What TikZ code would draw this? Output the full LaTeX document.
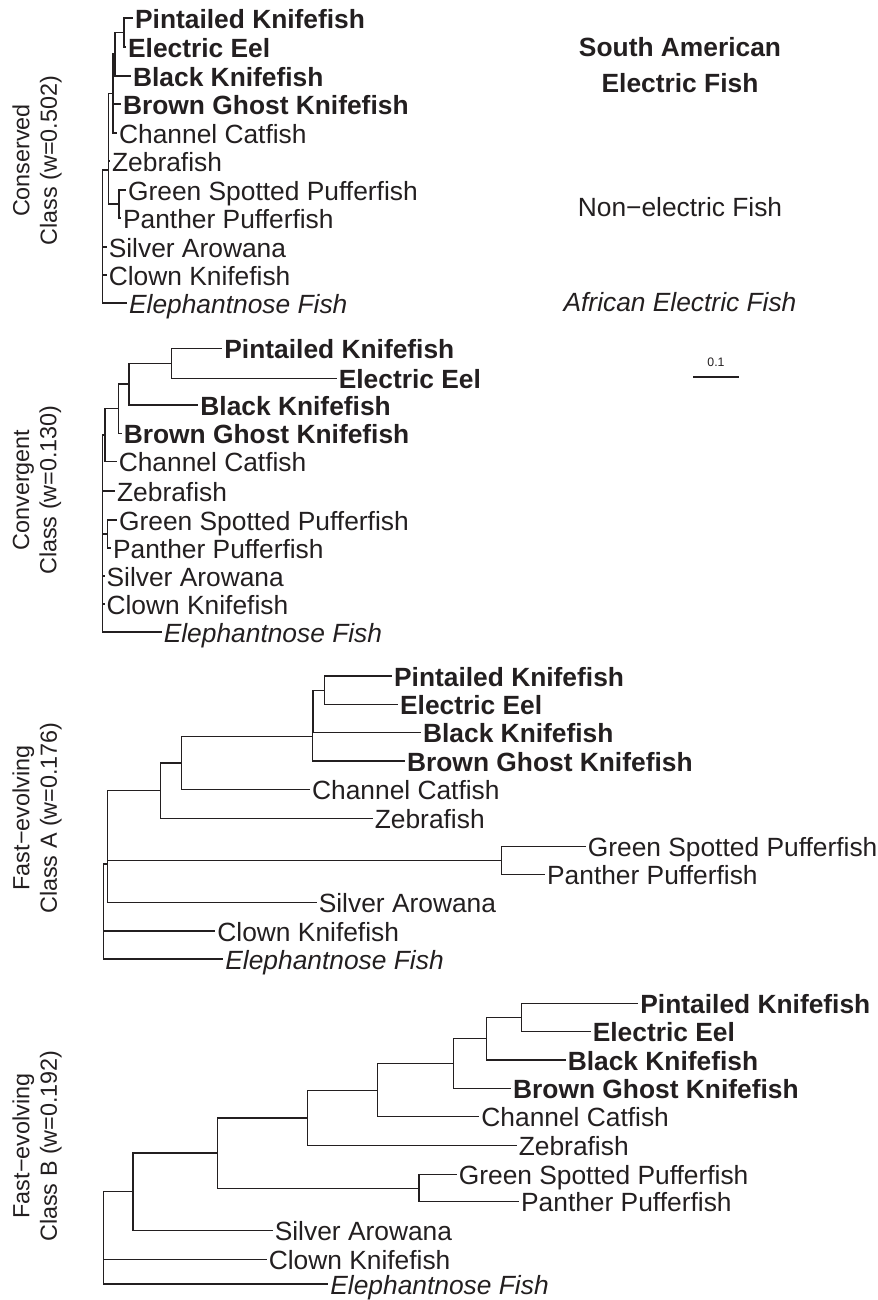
\documentclass[tikz,border=0pt]{standalone}
\usepackage{fontspec}
\setmainfont{Liberation Sans}
\usetikzlibrary{positioning}

\definecolor{inkdark}{RGB}{35,31,32}

\tikzset{
  leaf/.style={anchor=west, inner xsep=1pt, inner ysep=0pt, text=inkdark,
    font=\fontsize{15}{18}\selectfont, text height=11.6pt, text depth=0pt},
  saleaf/.style={leaf, font=\fontsize{15}{18}\selectfont\bfseries},
  afleaf/.style={leaf, font=\fontsize{15}{18}\selectfont\itshape},
  branch/.style={draw=inkdark, line width=0.6pt},
  sidelabel/.style={rotate=90, align=center, text=inkdark,
    font=\fontsize{13.3}{15.6}\selectfont},
  legend/.style={text=inkdark, font=\fontsize{15}{18}\selectfont}
}

\begin{document}
\begin{tikzpicture}[x=0.02cm, y=-0.02cm]
            \useasboundingbox (0,0) rectangle (877,1300);

            % conserved class
            \node[saleaf] (aPK) at (133,18) {Pintailed Knifefish};
            \node[saleaf] (aEE) at (126,47) {Electric Eel};
            \node[saleaf] (aBK) at (131,76) {Black Knifefish};
            \node[saleaf] (aBG) at (121,104) {Brown Ghost Knifefish};
            \node[leaf] (aCC) at (117,133) {Channel Catfish};
            \node[leaf] (aZF) at (110,161) {Zebrafish};
            \node[leaf] (aGP) at (126,190) {Green Spotted Pufferfish};
            \node[leaf] (aPP) at (121,218) {Panther Pufferfish};
            \node[leaf] (aSA) at (106.7,247) {Silver Arowana};
            \node[leaf] (aCK) at (106.7,275) {Clown Knifefish};
            \node[afleaf] (aEF) at (127,303) {Elephantnose Fish};

            \coordinate (aN1) at (124,32.5);
            \coordinate (aN2) at (115,54);
            \coordinate (aN3) at (113,93.5);
            \coordinate (aN4) at (108.5,170);
            \coordinate (aPF) at (119,204);
            \coordinate (aR) at (102.5,236);

            \draw[branch] (aN1) |- (aPK.west);
            \draw[branch] (aN1) |- (aEE.west);
            \draw[branch] (aN2) |- (aN1);
            \draw[branch] (aN2) |- (aBK.west);
            \draw[branch] (aN3) |- (aN2);
            \draw[branch] (aN3) |- (aBG.west);
            \draw[branch] (aN3) |- (aCC.west);
            \draw[branch] (aPF) |- (aGP.west);
            \draw[branch] (aPF) |- (aPP.west);
            \draw[branch] (aN4) |- (aN3);
            \draw[branch] (aN4) |- (aZF.west);
            \draw[branch] (aN4) |- (aPF);
            \draw[branch] (aR) |- (aN4);
            \draw[branch] (aR) |- (aSA.west);
            \draw[branch] (aR) |- (aCK.west);
            \draw[branch] (aR) |- (aEF.west);

            % convergent class
            \node[saleaf] (bPK) at (222.3,348.3) {Pintailed Knifefish};
            \node[saleaf] (bEE) at (336.7,378.3) {Electric Eel};
            \node[saleaf] (bBK) at (198.3,405) {Black Knifefish};
            \node[saleaf] (bBG) at (121.7,433.3) {Brown Ghost Knifefish};
            \node[leaf] (bCC) at (116.7,461.7) {Channel Catfish};
            \node[leaf] (bZF) at (115,491) {Zebrafish};
            \node[leaf] (bGP) at (117,520) {Green Spotted Pufferfish};
            \node[leaf] (bPP) at (111,548) {Panther Pufferfish};
            \node[leaf] (bSA) at (104.5,576) {Silver Arowana};
            \node[leaf] (bCK) at (104.5,604) {Clown Knifefish};
            \node[afleaf] (bEF) at (161.7,632) {Elephantnose Fish};

            \coordinate (bN1) at (171.7,363.3);
            \coordinate (bN2) at (129,384);
            \coordinate (bN3) at (118.3,408.7);
            \coordinate (bN4) at (105,435);
            \coordinate (bPF) at (107.7,534);
            \coordinate (bR) at (102.3,533);

            \draw[branch] (bN1) |- (bPK.west);
            \draw[branch] (bN1) |- (bEE.west);
            \draw[branch] (bN2) |- (bN1);
            \draw[branch] (bN2) |- (bBK.west);
            \draw[branch] (bN3) |- (bN2);
            \draw[branch] (bN3) |- (bBG.west);
            \draw[branch] (bN4) |- (bN3);
            \draw[branch] (bN4) |- (bCC.west);
            \draw[branch] (bPF) |- (bGP.west);
            \draw[branch] (bPF) |- (bPP.west);
            \draw[branch] (bR) |- (bN4);
            \draw[branch] (bR) |- (bZF.west);
            \draw[branch] (bR) |- (bPF);
            \draw[branch] (bR) |- (bSA.west);
            \draw[branch] (bR) |- (bCK.west);
            \draw[branch] (bR) |- (bEF.west);

            % fast-evolving class A
            \node[saleaf] (cPK) at (392,676) {Pintailed Knifefish};
            \node[saleaf] (cEE) at (398,704.3) {Electric Eel};
            \node[saleaf] (cBK) at (421,732.7) {Black Knifefish};
            \node[saleaf] (cBG) at (405,761) {Brown Ghost Knifefish};
            \node[leaf] (cCC) at (310,789.7) {Channel Catfish};
            \node[leaf] (cZF) at (372.7,818.3) {Zebrafish};
            \node[leaf] (cGP) at (585.7,846.7) {Green Spotted Pufferfish};
            \node[leaf] (cPP) at (545,874.3) {Panther Pufferfish};
            \node[leaf] (cSA) at (316.7,902.7) {Silver Arowana};
            \node[leaf] (cCK) at (215.3,931) {Clown Knifefish};
            \node[afleaf] (cEF) at (223.3,959) {Elephantnose Fish};

            \coordinate (cN1) at (324.3,690.2);
            \coordinate (cN2) at (313,711.5);
            \coordinate (cN3) at (312.3,736.3);
            \coordinate (cN4) at (181.7,763);
            \coordinate (cN5) at (160.3,790.5);
            \coordinate (cPF) at (501.7,860.5);
            \coordinate (cN6) at (107.7,825.5);
            \coordinate (cN7) at (107.3,864);
            \coordinate (cR) at (103.3,911);

            \draw[branch] (cN1) |- (cPK.west);
            \draw[branch] (cN1) |- (cEE.west);
            \draw[branch] (cN2) |- (cN1);
            \draw[branch] (cN2) |- (cBK.west);
            \draw[branch] (cN3) |- (cN2);
            \draw[branch] (cN3) |- (cBG.west);
            \draw[branch] (cN4) |- (cN3);
            \draw[branch] (cN4) |- (cCC.west);
            \draw[branch] (cN5) |- (cN4);
            \draw[branch] (cN5) |- (cZF.west);
            \draw[branch] (cPF) |- (cGP.west);
            \draw[branch] (cPF) |- (cPP.west);
            \draw[branch] (cN6) |- (cN5);
            \draw[branch] (cN6) |- (cPF);
            \draw[branch] (cN7) |- (cN6);
            \draw[branch] (cN7) |- (cSA.west);
            \draw[branch] (cR) |- (cN7);
            \draw[branch] (cR) |- (cCK.west);
            \draw[branch] (cR) |- (cEF.west);

            % fast-evolving class B
            \node[saleaf] (dPK) at (638.3,1003.3) {Pintailed Knifefish};
            \node[saleaf] (dEE) at (590.7,1031.7) {Electric Eel};
            \node[saleaf] (dBK) at (565.7,1060) {Black Knifefish};
            \node[saleaf] (dBG) at (511,1088.3) {Brown Ghost Knifefish};
            \node[leaf] (dCC) at (479.3,1116.7) {Channel Catfish};
            \node[leaf] (dZF) at (516.7,1145.3) {Zebrafish};
            \node[leaf] (dGP) at (456.7,1174.7) {Green Spotted Pufferfish};
            \node[leaf] (dPP) at (519,1201.7) {Panther Pufferfish};
            \node[leaf] (dSA) at (272.7,1230.7) {Silver Arowana};
            \node[leaf] (dCK) at (266.7,1259.3) {Clown Knifefish};
            \node[afleaf] (dEF) at (328.3,1284) {Elephantnose Fish};

            \coordinate (dN1) at (521.7,1017.5);
            \coordinate (dN2) at (486.7,1038.8);
            \coordinate (dN3) at (453.3,1063.8);
            \coordinate (dN4) at (377.3,1090.3);
            \coordinate (dN5) at (307.3,1118);
            \coordinate (dPF) at (419,1188.2);
            \coordinate (dN6) at (217.3,1153);
            \coordinate (dN7) at (133,1191.8);
            \coordinate (dR) at (103.3,1239);

            \draw[branch] (dN1) |- (dPK.west);
            \draw[branch] (dN1) |- (dEE.west);
            \draw[branch] (dN2) |- (dN1);
            \draw[branch] (dN2) |- (dBK.west);
            \draw[branch] (dN3) |- (dN2);
            \draw[branch] (dN3) |- (dBG.west);
            \draw[branch] (dN4) |- (dN3);
            \draw[branch] (dN4) |- (dCC.west);
            \draw[branch] (dN5) |- (dN4);
            \draw[branch] (dN5) |- (dZF.west);
            \draw[branch] (dPF) |- (dGP.west);
            \draw[branch] (dPF) |- (dPP.west);
            \draw[branch] (dN6) |- (dN5);
            \draw[branch] (dN6) |- (dPF);
            \draw[branch] (dN7) |- (dN6);
            \draw[branch] (dN7) |- (dSA.west);
            \draw[branch] (dR) |- (dN7);
            \draw[branch] (dR) |- (dCK.west);
            \draw[branch] (dR) |- (dEF.west);

            % class labels
            \node[sidelabel] (lblA) at (37,160.5) {Conserved\\Class (w=0.502)};
            \node[sidelabel] (lblB) at (37,490) {Convergent\\Class (w=0.130)};
            \node[sidelabel] (lblC) at (37,818) {Fast−evolving\\Class A (w=0.176)};
            \node[sidelabel] (lblD) at (37,1146) {Fast−evolving\\Class B (w=0.192)};

            % legend
            \node[legend, font=\fontsize{15}{18}\selectfont\bfseries] (legSA) at (680,47) {South American};
            \node[legend, font=\fontsize{15}{18}\selectfont\bfseries] (legSB) at (680,83) {Electric Fish};
            \node[legend] (legNE) at (680,207) {Non−electric Fish};
            \node[legend, font=\fontsize{15}{18}\selectfont\itshape] (legAF) at (680,302) {African Electric Fish};

            % scale bar
            \coordinate (sbL) at (693.3,376.7);
            \coordinate (sbR) at (739,376.7);
            \draw[draw=inkdark, line width=1.1pt] (sbL) -- (sbR);
            \node[text=inkdark, font=\fontsize{7}{8}\selectfont] (sbT) at (716,362) {0.1};
        \end{tikzpicture}
\end{document}
